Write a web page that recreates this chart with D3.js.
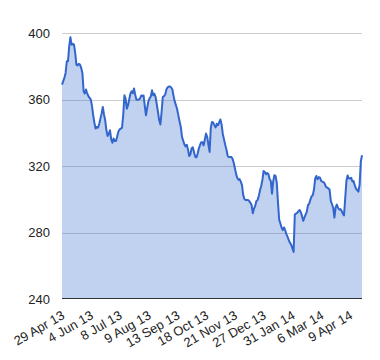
<!DOCTYPE html>
<html>
<head>
<meta charset="utf-8">
<script src="https://cdn.jsdelivr.net/npm/d3@7"></script>
<style>
  html, body { margin: 0; padding: 0; background: #fff; }
  svg { display: block; font-family: Arial, "Liberation Sans", sans-serif; }
</style>
</head>
<body>
<svg id="chart" width="380" height="360"></svg>
<script>
// Trading-day index of each tick label (one label every 24 trading days)
const tickDays = [0, 24, 48, 72, 96, 120, 144, 168, 192, 216, 240];
const tickLabels = ["29 Apr 13", "4 Jun 13", "8 Jul 13", "9 Aug 13", "13 Sep 13", "18 Oct 13",
                    "21 Nov 13", "27 Dec 13", "31 Jan 14", "6 Mar 14", "9 Apr 14"];
const yTicks = [240, 280, 320, 360, 400];
const totalDays = 250;   // last trading-day index
// one value per trading day
const values = [
  369, 371, 373, 376, 383, 383, 392, 397.5, 393, 393.5,
  393, 388, 381, 380.5, 381.5, 381, 379, 376, 365, 363.6,
  366, 363.6, 362, 361, 360, 356, 350.5, 346, 342.5, 343.5,
  343, 345.3, 348.5, 351.5, 355.5, 351, 347.5, 341.5, 338, 339.5,
  341.5, 336, 334, 336.5, 335, 335, 337.8, 340.8, 342, 342.5,
  343, 350.5, 362.5, 360.5, 354.5, 356.5, 360, 363.5, 365, 363.8,
  366.6, 362.8, 360, 359.8, 360.1, 360.5, 362.4, 362.1, 362.4, 356,
  350.5, 355, 359, 360.7, 361.8, 365.5, 362.5, 363.4, 361.5, 357,
  352.5, 347.5, 345, 352.5, 361.5, 362, 363, 366, 367.3, 367.8,
  367.8, 367.2, 366, 362, 358.7, 356.5, 354, 350.3, 346.8, 343.5,
  337.5, 335.2, 333, 331.8, 332.8, 330, 326, 327, 330.7, 331.3,
  328.4, 325.6, 325.1, 327.4, 330.5, 332.5, 334.3, 334.3, 332.4, 335.8,
  339.5, 337.6, 332.8, 328.5, 343, 346.5, 346.1, 344.6, 343.2, 345.4,
  344.5, 346.3, 348, 345, 339.3, 336, 332.8, 330, 326.3, 325.4,
  325.4, 325.4, 324.6, 322.3, 319, 315.4, 313, 311.7, 312.1, 310.6,
  308.5, 302.5, 300.2, 299.6, 299.5, 299.6, 298.9, 297.9, 296.5, 291.6,
  294.4, 296, 299, 299.6, 301.9, 305.4, 308, 311.6, 317, 316.4,
  315, 315.8, 315.2, 312.2, 311, 303.4, 310.8, 314.5, 314, 309.8,
  298, 287.6, 285.4, 282.9, 281.4, 283, 281.4, 279, 277.4, 275.4,
  273.8, 272.6, 270.5, 268.3, 290.8, 291.4, 291.8, 292.8, 293.5, 292.2,
  290, 287, 289, 290.8, 292.6, 296.4, 297.3, 299.8, 301.8, 302.4,
  306, 312.5, 314, 312, 313.3, 313, 311, 310.5, 310.3, 309.3,
  307.4, 307, 306.5, 305.7, 299, 297, 294.9, 289, 295, 296.8,
  294.9, 293.8, 294.1, 293, 291.3, 290.3, 300.5, 311, 314.3, 312.6,
  312.4, 312.9, 310.7, 310.9, 308.3, 306.4, 305.5, 304.6, 308.7, 322.6,
  326.5
];

const data = values.map((v, i) => ({ day: i, value: v }));

const svg = d3.select("#chart");
const mLeft = 62, mRight = 362, mTop = 33, mBottom = 299;

const x = d3.scaleLinear().domain([0, totalDays]).range([mLeft, mRight]);
const y = d3.scaleLinear().domain([240, 400]).range([mBottom, mTop]);

// gridlines
svg.append("g")
  .selectAll("line")
  .data(yTicks.filter(t => t !== 240))
  .join("line")
  .attr("x1", mLeft).attr("x2", mRight)
  .attr("y1", d => Math.round(y(d)) + 0.5).attr("y2", d => Math.round(y(d)) + 0.5)
  .attr("stroke", "#cccccc").attr("stroke-width", 1);

// area
const area = d3.area()
  .x(d => x(d.day))
  .y0(y(240))
  .y1(d => y(d.value));
svg.append("path")
  .datum(data)
  .attr("d", area)
  .attr("fill", "#3366cc")
  .attr("fill-opacity", 0.3);

// line
const line = d3.line()
  .x(d => x(d.day))
  .y(d => y(d.value));
svg.append("path")
  .datum(data)
  .attr("d", line)
  .attr("fill", "none")
  .attr("stroke", "#3366cc")
  .attr("stroke-width", 2)
  .attr("stroke-linejoin", "round");

// baseline
svg.append("line")
  .attr("x1", mLeft).attr("x2", mRight)
  .attr("y1", Math.round(y(240)) - 0.5).attr("y2", Math.round(y(240)) - 0.5)
  .attr("stroke", "#333333").attr("stroke-width", 1);

// y-axis labels
const yAxis = d3.axisLeft(y).tickValues(yTicks).tickSize(0).tickPadding(12);
const yg = svg.append("g").attr("transform", `translate(${mLeft},0)`).call(yAxis);
yg.select(".domain").remove();
yg.selectAll("text")
  .attr("font-size", 13)
  .attr("font-family", "Arial, 'Liberation Sans', sans-serif")
  .attr("fill", "#222222");

// x-axis labels (slanted)
const xAxis = d3.axisBottom(x).tickValues(tickDays)
  .tickFormat((d, i) => tickLabels[i]).tickSize(0);
const xg = svg.append("g").attr("transform", `translate(0,${mBottom})`).call(xAxis);
xg.select(".domain").remove();
xg.selectAll(".tick text")
  .attr("font-size", 13)
  .attr("font-family", "Arial, 'Liberation Sans', sans-serif")
  .attr("fill", "#222222")
  .attr("text-anchor", "end")
  .attr("x", 0).attr("y", 0).attr("dy", 0)
  .attr("transform", "translate(3,19) rotate(-30)");
</script>
</body>
</html>
